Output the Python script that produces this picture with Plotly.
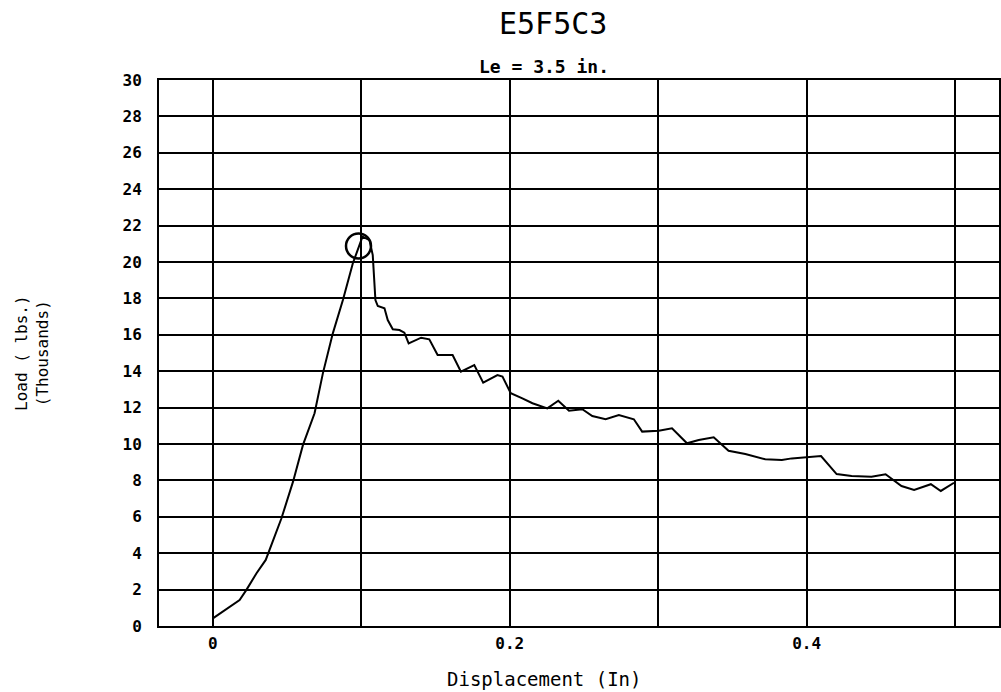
import plotly.graph_objects as go

# Load-displacement record for specimen E5F5C3 (displacement in inches, load in kips)
displacement = [0.0, 0.0114, 0.018, 0.0227, 0.0294, 0.0356, 0.0462, 0.054, 0.0607, 0.0685,
                0.0741, 0.0808, 0.0876, 0.0943, 0.1008, 0.1055, 0.1077, 0.1095, 0.1111,
                0.1156, 0.1178, 0.1212, 0.1257, 0.129, 0.1319, 0.1403, 0.1458, 0.1514,
                0.1615, 0.1671, 0.1761, 0.1821, 0.1917, 0.1951, 0.2007, 0.2085, 0.2153,
                0.2253, 0.2327, 0.2399, 0.2489, 0.2556, 0.2646, 0.2735, 0.2836, 0.2892,
                0.3004, 0.3093, 0.3194, 0.3273, 0.3374, 0.3474, 0.3587, 0.3721, 0.3833,
                0.39, 0.399, 0.4097, 0.4202, 0.4303, 0.4437, 0.4532, 0.4639, 0.4724,
                0.4837, 0.4904, 0.4993]
load_kips = [0.42, 1.06, 1.43, 2.0, 2.9, 3.63, 5.92, 7.93, 9.95, 11.69,
             13.88, 16.08, 17.91, 19.93, 21.39, 21.2, 20.38, 17.91, 17.58,
             17.46, 16.81, 16.3, 16.26, 16.12, 15.53, 15.84, 15.75, 14.89,
             14.89, 13.97, 14.34, 13.37, 13.79, 13.7, 12.79, 12.51, 12.24,
             11.96, 12.38, 11.83, 11.91, 11.54, 11.36, 11.59, 11.36, 10.68,
             10.73, 10.86, 10.04, 10.22, 10.37, 9.63, 9.45, 9.16, 9.12,
             9.21, 9.27, 9.34, 8.35, 8.24, 8.2, 8.34, 7.69, 7.47,
             7.79, 7.42, 7.87]

# Peak load marker
peak_x = [0.0981]
peak_y = [20.88]

x_tick_vals = [0.0, 0.1, 0.2, 0.3, 0.4, 0.5]
x_tick_text = ["0", "", "0.2", "", "0.4", ""]
y_tick_vals = list(range(0, 31, 2))

# plot-area geometry in pixels
LEFT, RIGHT, TOP, BOTTOM = 159, 1001, 80, 626
PLOT_W = RIGHT - LEFT

fig = go.Figure()
fig.add_trace(go.Scatter(
    x=displacement, y=load_kips, mode="lines",
    line=dict(color="black", width=2), hoverinfo="skip", showlegend=False,
))
fig.add_trace(go.Scatter(
    x=peak_x, y=peak_y, mode="markers",
    marker=dict(symbol="circle-open", size=25, color="black",
                line=dict(width=2.5, color="black")),
    hoverinfo="skip", showlegend=False,
))

tick_font = dict(family="DejaVu Sans Mono", size=16, color="black", weight="bold")
mono = "DejaVu Sans Mono"

fig.update_layout(
    width=1001, height=692,
    margin=dict(l=LEFT, r=1001 - RIGHT, t=TOP, b=692 - BOTTOM),
    paper_bgcolor="white", plot_bgcolor="white",
    showlegend=False,
    annotations=[
        dict(text="E5F5C3", x=(610 - LEFT) / PLOT_W, y=1.0, xref="paper", yref="paper",
             yshift=57, xanchor="right", yanchor="middle", showarrow=False,
             font=dict(family=mono, size=30, color="black")),
        dict(text="Le = 3.5 in.", x=(612 - LEFT) / PLOT_W, y=1.0, xref="paper", yref="paper",
             yshift=14, xanchor="right", yanchor="middle", showarrow=False,
             font=dict(family=mono, size=18, color="black", weight="bold")),
        dict(text="Load ( lbs.)<br>(Thousands)", x=0, y=0.5, xref="paper", yref="paper",
             xshift=32 - LEFT, showarrow=False, textangle=-90,
             xanchor="center", yanchor="middle",
             font=dict(family=mono, size=16, color="black")),
        dict(text="Displacement (In)", x=(545 - LEFT) / PLOT_W, y=0.0, xref="paper", yref="paper",
             yshift=-53, xanchor="center", yanchor="middle", showarrow=False,
             font=dict(family=mono, size=19, color="black")),
    ],
)

fig.update_xaxes(
    range=[-0.0363, 0.5296], tickvals=x_tick_vals, ticktext=x_tick_text,
    showgrid=True, gridcolor="black", gridwidth=2,
    zeroline=False, showline=True, linecolor="black", linewidth=2, mirror=True,
    ticks="", tickfont=tick_font, ticklabelstandoff=2,
)
fig.update_yaxes(
    range=[0, 30], tickvals=y_tick_vals,
    showgrid=True, gridcolor="black", gridwidth=2,
    zeroline=False, showline=True, linecolor="black", linewidth=2, mirror=True,
    ticks="", tickfont=tick_font, ticklabelstandoff=12,
)

fig.write_html("out.html")
